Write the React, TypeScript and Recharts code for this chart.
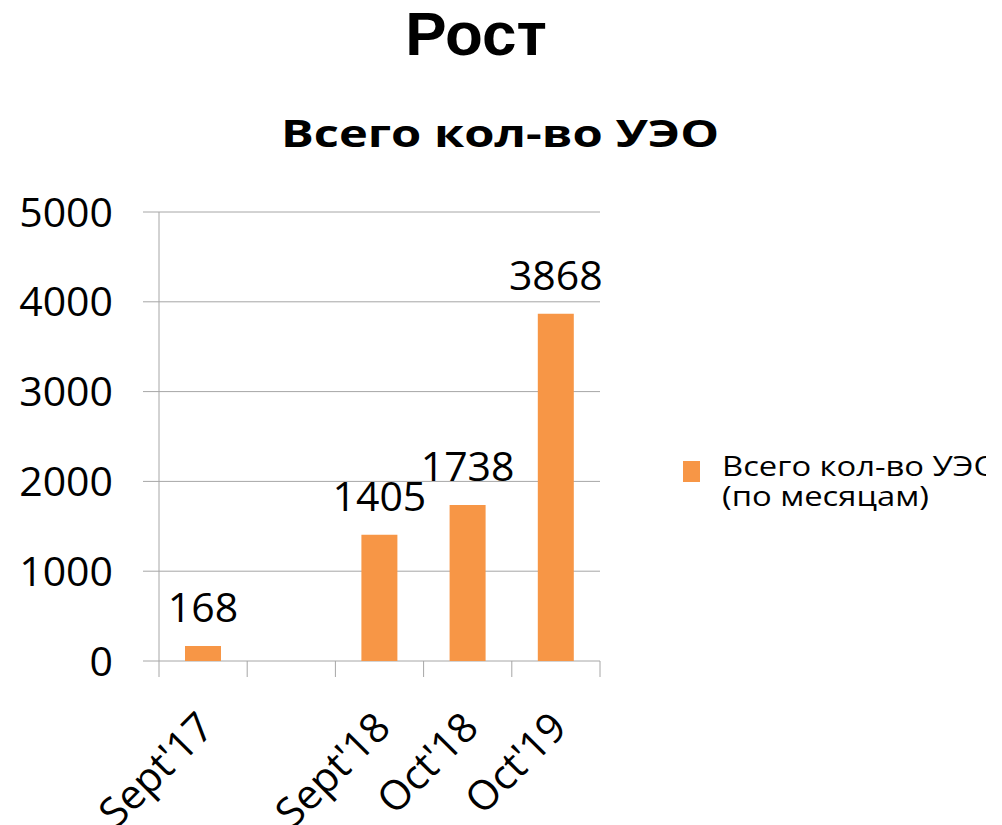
import { BarChart, Bar, XAxis, YAxis, CartesianGrid, LabelList } from 'recharts';

const categories = ["Sept'17", '', "Sept'18", "Oct'18", "Oct'19"];
const totals: (number | null)[] = [168, null, 1405, 1738, 3868];
const yTicks = [0, 1000, 2000, 3000, 4000, 5000];

const SERIES_NAME = 'Всего кол-во УЭО (по месяцам)';
const ORANGE = '#F79646';
const GRID = '#A6A6A6';
const FONT = '"Open Sans", "Noto Sans", sans-serif';

const data = categories.map((c, i) => ({ name: c, value: totals[i] }));

// category label, rotated; tick marks sit on the band edges (Excel style)
const XTick = ({ x, y, payload, index, visibleTicksCount }: any) => {
  const half = payload?.offset ?? 0;
  const last = index === visibleTicksCount - 1;
  return (
    <g>
      <line x1={x - half} x2={x - half} y1={y} y2={y + 16} stroke={GRID} />
      {last && <line x1={x + half} x2={x + half} y1={y} y2={y + 16} stroke={GRID} />}
      {payload?.value ? (
        <text
          transform={`translate(${x + 13},${y + 69}) rotate(-45)`}
          textAnchor="end"
          fontSize={41}
          fontFamily={FONT}
          fill="#000"
        >
          {payload.value}
        </text>
      ) : null}
    </g>
  );
};

const LegendBox = () => (
  <div style={{ position: 'absolute', left: 683, top: 450, display: 'flex', alignItems: 'flex-start', fontFamily: FONT, fontSize: 28, color: '#000' }}>
    <span style={{ width: 17, height: 21, background: ORANGE, marginTop: 11, flexShrink: 0 }} />
    <div style={{ marginLeft: 22, lineHeight: '30px', whiteSpace: 'nowrap', transform: 'scaleX(1.17)', transformOrigin: 'left top' }}>
      {SERIES_NAME.split(' (')[0]}
      <br />
      {'(' + SERIES_NAME.split(' (')[1]}
    </div>
  </div>
);

export default function App() {
  return (
    <div style={{ position: 'absolute', left: 0, top: 0, width: 986, height: 825, overflow: 'hidden', background: '#fff' }}>
      <div style={{ position: 'absolute', left: 0, width: 952, top: 0, textAlign: 'center', fontFamily: '"Liberation Sans", Arial, sans-serif', fontWeight: 700, fontSize: 62, lineHeight: '68px' }}>
        Рост
      </div>
      <div style={{ position: 'absolute', left: 0, width: 1000, top: 111, textAlign: 'center', fontFamily: FONT, fontWeight: 700, fontSize: 37, lineHeight: '44px', transform: 'scaleX(1.32)', transformOrigin: '500px 0' }}>
        Всего кол-во УЭО
      </div>
      <BarChart
        width={1002}
        height={825}
        data={data}
        margin={{ top: 212, right: 402, bottom: 163, left: 0 }}
        barSize={36}
      >
        <CartesianGrid stroke={GRID} vertical={false} />
        <XAxis
          dataKey="name"
          height={1}
          interval={0}
          tickSize={0}
          tickMargin={0}
          tickLine={false}
          axisLine={false}
          tick={<XTick />}
        />
        <YAxis
          width={159}
          domain={[0, 5000]}
          ticks={yTicks}
          tickSize={16}
          tickMargin={30}
          axisLine={{ stroke: GRID }}
          tickLine={{ stroke: GRID }}
          tick={{ fontSize: 41, fontFamily: FONT, fill: '#000' }}
        />
        <Bar dataKey="value" name={SERIES_NAME} fill={ORANGE} isAnimationActive={false}>
          <LabelList dataKey="value" position="top" offset={24} fontSize={41} fontFamily={FONT} fill="#000" />
        </Bar>
      </BarChart>
      <LegendBox />
    </div>
  );
}
